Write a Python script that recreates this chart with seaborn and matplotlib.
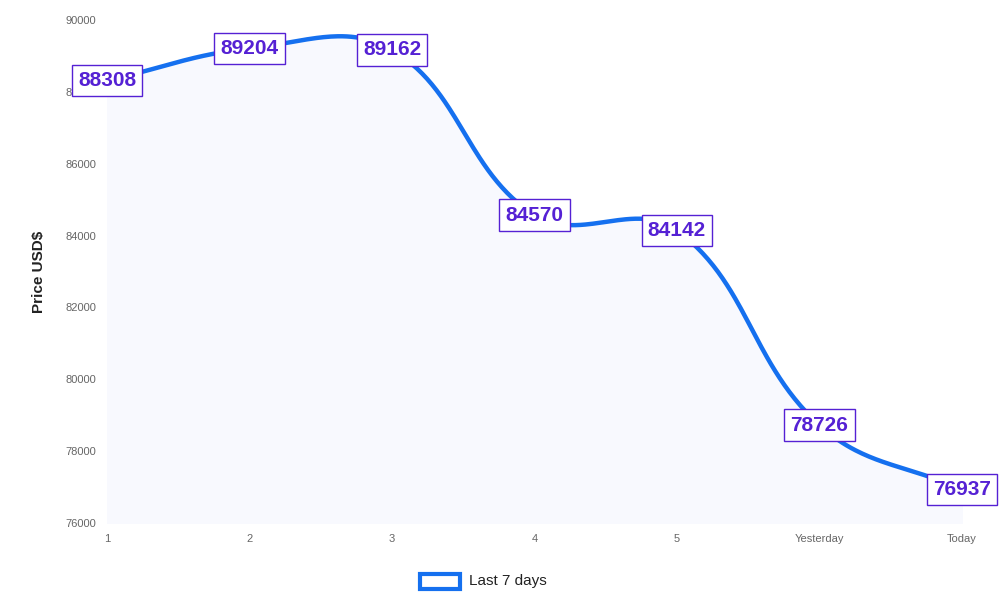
import numpy as np
import pandas as pd
import matplotlib
matplotlib.use("Agg")
import matplotlib.pyplot as plt
import seaborn as sns
from matplotlib.patches import Rectangle

days = ["1", "2", "3", "4", "5", "Yesterday", "Today"]
prices = [88308, 89204, 89162, 84570, 84142, 78726, 76937]
series_name = "Last 7 days"

sns.set_theme(style="white")
plt.rcParams['font.family'] = ['Liberation Sans', 'DejaVu Sans']

fig = plt.figure(figsize=(10, 6), dpi=100)
ax = fig.add_axes([0.107, 0.128, 0.855, 0.839])
ymin, ymax = 76000, 90000

# Chart.js style bezier smoothing (tension 0.4) in pixel space
xs = np.arange(len(prices), dtype=float)
sx, sy = 855 / 6, 503 / (ymax - ymin)
P = np.column_stack([xs * sx, np.array(prices, float) * sy])
t = 0.4
n = len(P)
cp_prev = P.copy(); cp_next = P.copy()
for i in range(n):
    pr = P[max(i - 1, 0)]; cu = P[i]; nx = P[min(i + 1, n - 1)]
    d01 = np.hypot(*(cu - pr)); d12 = np.hypot(*(nx - cu))
    tot = d01 + d12
    s01 = d01 / tot if tot else 0; s12 = d12 / tot if tot else 0
    cp_prev[i] = cu - t * s01 * (nx - pr)
    cp_next[i] = cu + t * s12 * (nx - pr)
cx, cy = [], []
u = np.linspace(0, 1, 60)
for i in range(n - 1):
    p0, p1, p2, p3 = P[i], cp_next[i], cp_prev[i + 1], P[i + 1]
    b = ((1 - u) ** 3)[:, None] * p0 + (3 * (1 - u) ** 2 * u)[:, None] * p1 + \
        (3 * (1 - u) * u ** 2)[:, None] * p2 + (u ** 3)[:, None] * p3
    cx.extend(b[:, 0] / sx); cy.extend(b[:, 1] / sy)
curve = pd.DataFrame({"x": cx, "y": cy})

ax.fill_between(curve["x"], curve["y"], ymin, color="#f8f9fe", zorder=1)
sns.lineplot(data=curve, x="x", y="y", ax=ax, color="#1570ef", linewidth=3.2,
             sort=False, zorder=3, legend=False)

for xi, v in zip(xs, prices):
    ax.text(xi, v, str(v), ha="center", va="center", fontsize=15, color="#5521d4",
            fontweight="bold", zorder=5,
            bbox=dict(boxstyle="square,pad=0.3", fc="white", ec="#5521d4", lw=1))

ax.set_xlim(0, 6)
ax.set_ylim(ymin, ymax)
ax.set_xticks(xs)
ax.set_xticklabels(days)
ax.set_yticks(np.arange(76000, 90001, 2000))
ax.tick_params(axis="both", labelsize=8, colors="#666666", length=0, pad=8)
ax.set_xlabel("")
ax.set_ylabel("Price USD$", fontsize=11, color="#222222", fontweight="bold", labelpad=14)
for s in ax.spines.values():
    s.set_visible(False)
ax.grid(False)

fig.patches.append(Rectangle((0.420, 0.018), 0.040, 0.026, transform=fig.transFigure,
                             fc="white", ec="#1570ef", lw=3))
fig.text(0.469, 0.031, series_name, fontsize=11, color="#222222", va="center")

fig.savefig("out.png", dpi=100)
